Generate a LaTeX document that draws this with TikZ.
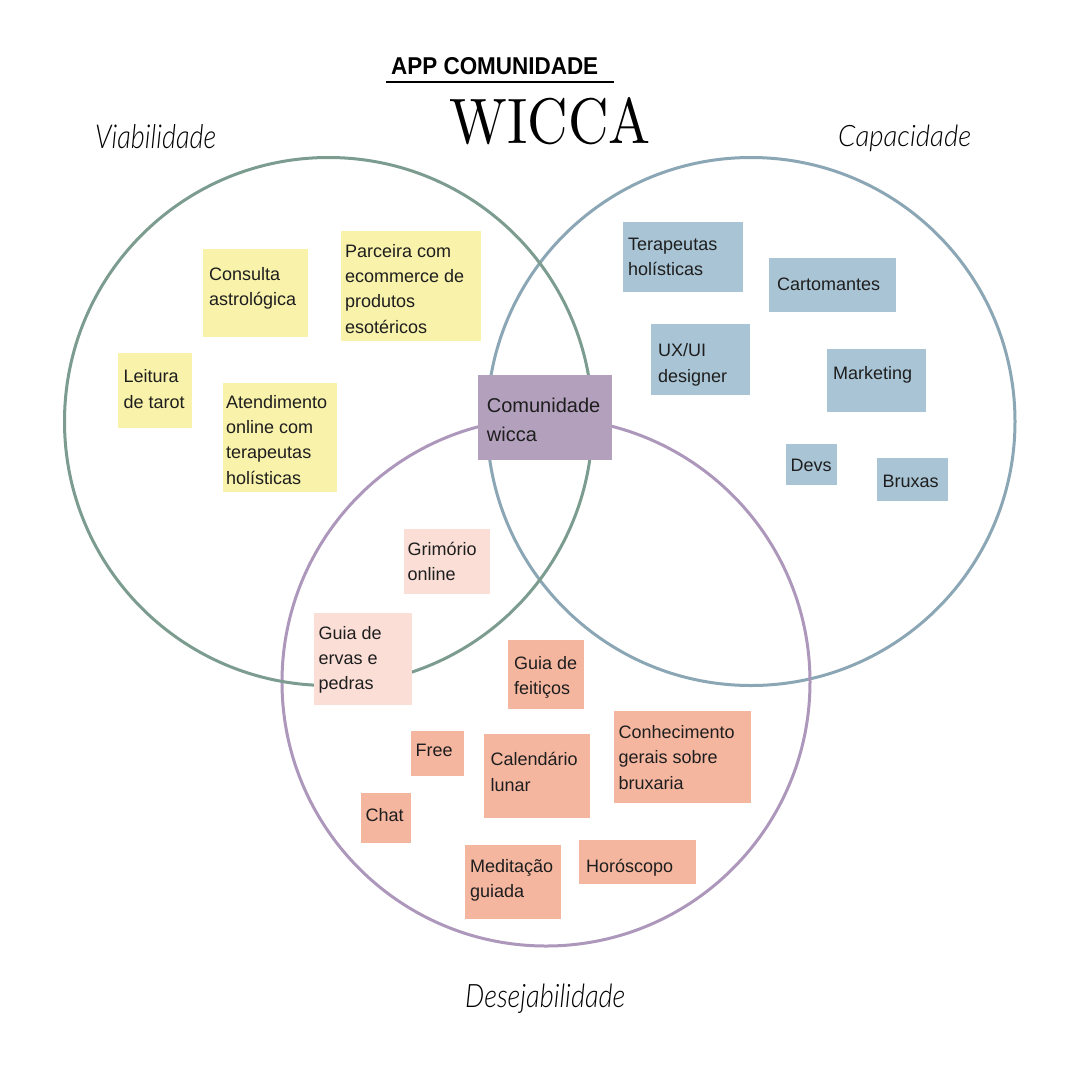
\documentclass[tikz,border=0pt]{standalone}
\usepackage{fontspec}
\usepackage{graphicx}
\newfontfamily\arialf{Liberation Sans}
\newfontfamily\hand{Lato Light}
\definecolor{lgreen}{HTML}{7C9C90}
\definecolor{lblue}{HTML}{8BA6B4}
\definecolor{lpurple}{HTML}{AD98BC}
\definecolor{yel}{HTML}{F8F2AA}
\definecolor{blu}{HTML}{A9C4D4}
\definecolor{mid}{HTML}{B3A0BD}
\definecolor{pnk}{HTML}{FBDFD7}
\definecolor{sal}{HTML}{F5B6A0}
\definecolor{ink}{HTML}{1E1E1E}
\tikzset{
  ring/.style={circle, draw, line width=3pt, minimum size=528pt, inner sep=0pt},
  notebox/.style={rectangle, inner sep=0pt, anchor=north west},
  notetext/.style={inner sep=0pt, anchor=north west, align=left, text=ink,
    font=\arialf\fontsize{18}{25.3}\selectfont},
  label text/.style={inner sep=0pt, anchor=base west},
}
\newcommand\stickynote[9]{%
  \node[notebox, fill=#6, minimum width=#4pt, minimum height=#5pt] (#1) at (#2,#3) {};
  \node[notetext] (#1-t) at (#7,#8-17.71) {\strut #9};
}
\begin{document}
\begin{tikzpicture}[x=1pt,y=-1pt]
\useasboundingbox (0,0) rectangle (1080,1080);
\fill[white] (0,0) rectangle (1080,1080);

% circles
\node[ring, draw=lblue] (cap) at (751,421.5) {};
\node[ring, draw=lpurple] (des) at (546,682) {};
\node[ring, draw=lgreen] (via) at (328.5,421.5) {};

% title
\node[label text] (app) at (391,74) {\resizebox{207pt}{17pt}{\arialf\bfseries APP COMUNIDADE}};
\coordinate (ul1) at (386,81.5);
\coordinate (ul2) at (614,81.5);
\draw[line width=2pt] (ul1) -- (ul2);
\node[label text] (wicca) at (449.5,143.3) {\resizebox{201pt}{46pt}{WICCA}};

% handwritten labels
\node[label text] (via-l) at (95,148) {\resizebox{121pt}{24pt}{\hand\itshape Viabilidade}};
\node[label text] (cap-l) at (838,146.5) {\resizebox{133pt}{21.5pt}{\hand\itshape Capacidade}};
\node[label text] (des-l) at (465,1007.5) {\resizebox{160pt}{23.5pt}{\hand\itshape Desejabilidade}};

% viabilidade notes
\stickynote{consulta}{203}{249}{105}{88}{yel}{209}{280}{Consulta\\astrológica}
\stickynote{parceira}{341}{231}{140}{110}{yel}{345}{257}{Parceira com\\ecommerce de\\produtos\\esotéricos}
\stickynote{leitura}{118}{353}{74}{75}{yel}{123.5}{382.5}{Leitura\\de tarot}
\stickynote{atend}{222.5}{382.5}{114}{109}{yel}{226}{408}{Atendimento\\online com\\terapeutas\\holísticas}

% capacidade notes
\stickynote{terap}{623}{221.5}{120}{70}{blu}{628}{250}{Terapeutas\\holísticas}
\stickynote{carto}{769}{258}{127}{54}{blu}{777}{290.5}{Cartomantes}
\stickynote{uxui}{651}{324}{99}{71}{blu}{658}{356.5}{UX/UI\\designer}
\stickynote{mkt}{826.5}{348.5}{99.5}{63.5}{blu}{833}{379.5}{Marketing}
\stickynote{devs}{785.5}{443.5}{51.5}{41}{blu}{790.5}{471.5}{Devs}
\stickynote{bruxas}{876.5}{457.5}{71}{43}{blu}{882.5}{487}{Bruxas}

% centre
\node[notebox, fill=mid, minimum width=134.5pt, minimum height=84.5pt] (comun) at (477.5,375) {};
\node[notetext, font=\arialf\fontsize{20}{28.7}\selectfont] (comun-t) at (486.7,412.3-20.09) {\strut Comunidade\\wicca};

% desejabilidade notes
\stickynote{grim}{403.5}{529}{86.5}{64.5}{pnk}{407.5}{555.3}{Grimório\\online}
\stickynote{ervas}{314}{612.5}{97.5}{92}{pnk}{318.5}{639}{Guia de\\ervas e\\pedras}
\stickynote{feit}{507.5}{640}{76.5}{68.5}{sal}{514}{669.3}{Guia de\\feitiços}
\stickynote{free}{411}{730.5}{53}{45.5}{sal}{415.5}{756}{Free}
\stickynote{cal}{483.5}{734}{106}{84}{sal}{490.5}{765.5}{Calendário\\lunar}
\stickynote{conh}{614}{711}{137}{92}{sal}{618.5}{738.3}{Conhecimento\\gerais sobre\\bruxaria}
\stickynote{chat}{360.5}{792.5}{50}{50}{sal}{365.5}{821}{Chat}
\stickynote{medit}{465}{845}{96}{74}{sal}{470}{872}{Meditação\\guiada}
\stickynote{horo}{578.5}{840}{117}{44}{sal}{586}{872}{Horóscopo}
\end{tikzpicture}
\end{document}
